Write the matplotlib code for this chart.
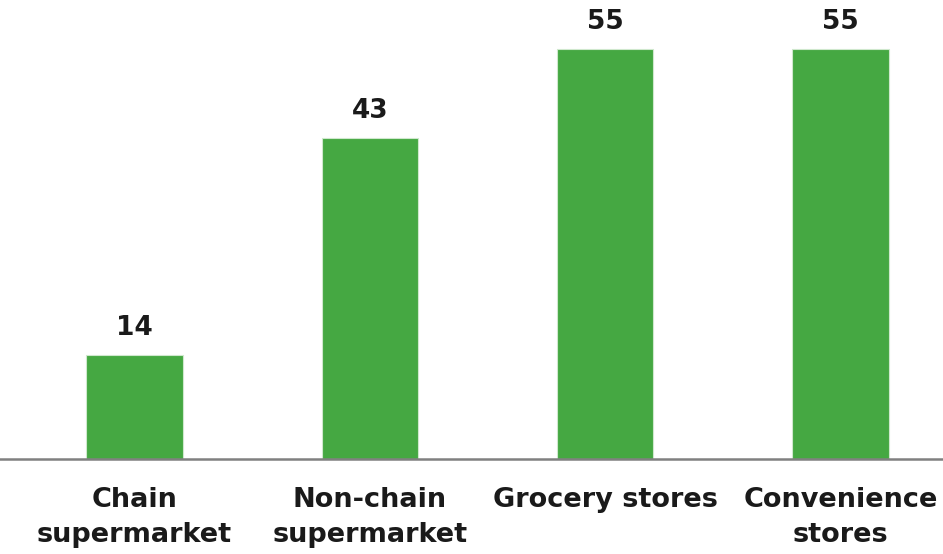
import matplotlib
matplotlib.use("Agg")
import matplotlib.pyplot as plt

categories = ["Chain\nsupermarket", "Non-chain\nsupermarket", "Grocery stores", "Convenience\nstores"]
values = [14, 43, 55, 55]

bar_color = "#45a842"
text_color = "#1a1a1a"

fig = plt.figure(figsize=(9.43, 5.54), dpi=100)
ax = fig.add_axes([0, 0.1715, 1, 0.979 - 0.1715])
x = list(range(len(categories)))
bars = ax.bar(x, values, width=0.41, color=bar_color, edgecolor="#cfe8cd", linewidth=0.8)
ax.set_xlim(-0.572, 3.436)
ax.set_ylim(0, 60)

for xi, v in zip(x, values):
    ax.annotate(str(v), (xi, v), xytext=(0, 10), textcoords="offset points",
                ha="center", va="bottom", fontsize=19, fontweight="bold", color=text_color)

for s in ["top", "right", "left"]:
    ax.spines[s].set_visible(False)
ax.spines["bottom"].set_color("#808080")
ax.spines["bottom"].set_linewidth(1.8)
ax.set_yticks([])
ax.set_xticks(x)
ax.set_xticklabels(categories, fontsize=19.5, fontweight="bold", color=text_color, linespacing=1.45)
ax.tick_params(axis="x", length=0, pad=20)

fig.savefig("out.png", dpi=100)
